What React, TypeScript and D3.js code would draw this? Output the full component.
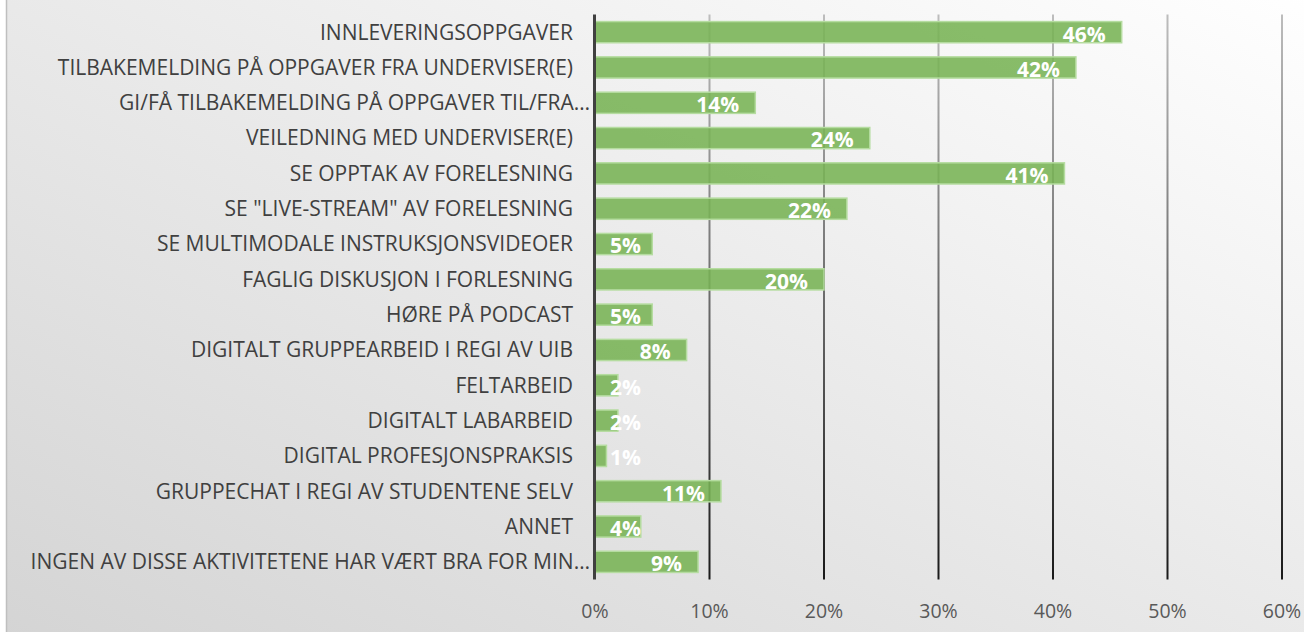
import React from "react";
import * as d3 from "d3";

const categories = [
  "INNLEVERINGSOPPGAVER",
  "TILBAKEMELDING PÅ OPPGAVER FRA UNDERVISER(E)",
  "GI/FÅ TILBAKEMELDING PÅ OPPGAVER TIL/FRA…",
  "VEILEDNING MED UNDERVISER(E)",
  "SE OPPTAK AV FORELESNING",
  "SE \"LIVE-STREAM\" AV FORELESNING",
  "SE MULTIMODALE INSTRUKSJONSVIDEOER",
  "FAGLIG DISKUSJON I FORLESNING",
  "HØRE PÅ PODCAST",
  "DIGITALT GRUPPEARBEID I REGI AV UIB",
  "FELTARBEID",
  "DIGITALT LABARBEID",
  "DIGITAL PROFESJONSPRAKSIS",
  "GRUPPECHAT I REGI AV STUDENTENE SELV",
  "ANNET",
  "INGEN AV DISSE AKTIVITETENE HAR VÆRT BRA FOR MIN…",
];
const values = [0.46, 0.42, 0.14, 0.24, 0.41, 0.22, 0.05, 0.2, 0.05, 0.08, 0.02, 0.02, 0.01, 0.11, 0.04, 0.09];
const ticks = [0, 0.1, 0.2, 0.3, 0.4, 0.5, 0.6];

const W = 1304;
const H = 632;
const left = 595;
const right = 1282;
const top = 14.5;
const bottom = 579.5;

export default function App() {
  const x = d3.scaleLinear().domain([0, 0.6]).range([left, right]);
  const y = d3.scaleBand<string>().domain(categories).range([top, bottom]).paddingInner(0.4).paddingOuter(0.2);
  const fmt = d3.format(".0%");
  const font = "'Open Sans', sans-serif";
  return (
    <svg width={W} height={H} style={{ position: "absolute", left: 0, top: 0, display: "block" }}>
      <defs>
        <linearGradient id="bg" x1="1" y1="0" x2="0" y2="1">
          <stop offset="0" stopColor="#ffffff" />
          <stop offset="1" stopColor="#d4d4d4" />
        </linearGradient>
        <linearGradient id="grid" gradientUnits="userSpaceOnUse" x1="0" y1={top} x2="0" y2={bottom}>
          <stop offset="0" stopColor="#bdbdbd" />
          <stop offset="1" stopColor="#1a1a1a" />
        </linearGradient>
      </defs>
      <rect x={6.5} y={-10} width={W + 10} height={H + 20} fill="url(#bg)" stroke="#bfbfbf" strokeWidth={1.5} />
      {ticks.slice(1).map((t) => (
        <line key={t} x1={x(t)} x2={x(t)} y1={top} y2={bottom} stroke="url(#grid)" strokeWidth={2} />
      ))}
      {categories.map((c, i) => (
        <rect
          key={c}
          x={x(0)}
          y={y(c)!}
          width={x(values[i]) - x(0)}
          height={y.bandwidth()}
          fill="#78b354"
          fillOpacity={0.88}
          stroke="#b5dca0"
          strokeWidth={1.5}
        />
      ))}
      <line x1={left - 0.5} x2={left - 0.5} y1={top} y2={bottom} stroke="#404040" strokeWidth={3} />
      {categories.map((c) => (
        <text
          key={c}
          x={c.endsWith("…") ? 590 : 573}
          y={y(c)! + y.bandwidth() / 2}
          dy="0.35em"
          textAnchor="end"
          fontFamily={font}
          fontSize={21}
          fill="#404040"
        >
          {c}
        </text>
      ))}
      {categories.map((c, i) => {
        const endX = Math.max(x(values[i]) - 16, x(0) + 46);
        return (
          <text
            key={c}
            x={endX}
            y={y(c)! + y.bandwidth() / 2 + 2}
            dy="0.35em"
            textAnchor="end"
            fontFamily={font}
            fontWeight={700}
            fontSize={21}
            fill="#ffffff"
          >
            {fmt(values[i])}
          </text>
        );
      })}
      {ticks.map((t) => (
        <text key={t} x={x(t)} y={611} dy="0.35em" textAnchor="middle" fontFamily={font} fontSize={19.5} fill="#595959">
          {fmt(t)}
        </text>
      ))}
    </svg>
  );
}
